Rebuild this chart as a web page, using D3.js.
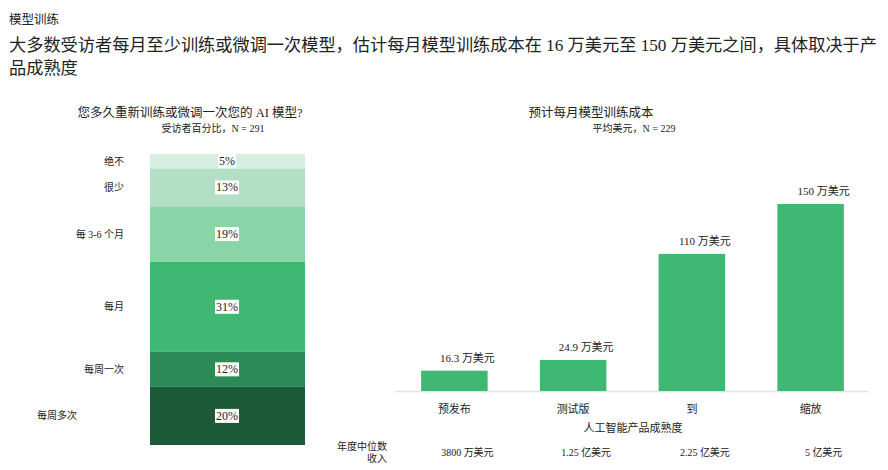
<!DOCTYPE html>
<html><head><meta charset="utf-8">
<script src="https://cdn.jsdelivr.net/npm/d3@7/dist/d3.min.js"></script>
<style>
body{margin:0;background:#fff;}
text{font-family:"Liberation Serif","Noto Sans CJK SC",serif;fill:#222;}
</style></head>
<body>
<svg id="c" width="888" height="470"></svg>
<script>
// ---- data ----
const freqCategories = ["绝不","很少","每 3-6 个月","每月","每周一次","每周多次"];
const freqValues = [5,13,19,31,12,20];
const freqColors = ["#d6eee1","#b2dfc6","#8bd4a8","#3fb874","#2b8a55","#1c5a37"];

const stageCategories = ["预发布","测试版","到","缩放"];
const costValues = [16.3,24.9,110,150];
const costLabels = ["16.3 万美元","24.9 万美元","110 万美元","150 万美元"];
const revenueLabels = ["3800 万美元","1.25 亿美元","2.25 亿美元","5 亿美元"];

const svg = d3.select("#c");

// ---- headings ----
svg.append("text").attr("x",9).attr("y",24).attr("font-size",12.5).text("模型训练");
const head = svg.append("text").attr("font-size",17.2);
head.append("tspan").attr("x",9).attr("y",51).text("大多数受访者每月至少训练或微调一次模型，估计每月模型训练成本在 16 万美元至 150 万美元之间，具体取决于产");
head.append("tspan").attr("x",9).attr("y",74).text("品成熟度");

// ---- left: stacked bar ----
svg.append("text").attr("x",190).attr("y",117).attr("text-anchor","middle").attr("font-size",12.5).text("您多久重新训练或微调一次您的 AI 模型?");
svg.append("text").attr("x",213).attr("y",132).attr("text-anchor","middle").attr("font-size",10).text("受访者百分比，N = 291");

const yL = d3.scaleLinear().domain([0,100]).range([154,445]);
let cum = 0;
const stacked = freqValues.map((v,i)=>{const s={cat:freqCategories[i],v,y0:cum,y1:cum+v,color:freqColors[i]};cum+=v;return s;});
const xL0 = 150, xL1 = 305;
const gL = svg.append("g");
gL.selectAll("rect.seg").data(stacked).join("rect").attr("class","seg")
  .attr("x",xL0).attr("width",xL1-xL0)
  .attr("y",d=>yL(d.y0)).attr("height",d=>yL(d.y1)-yL(d.y0))
  .attr("fill",d=>d.color);
stacked.forEach(d=>{
  const cy = (yL(d.y0)+yL(d.y1))/2;
  const t = gL.append("text").attr("x",227).attr("y",cy+4).attr("text-anchor","middle").attr("font-size",12).text(d.v+"%");
  const bb = t.node().getBBox();
  gL.insert("rect","text.dummy").attr("x",bb.x-1).attr("y",bb.y).attr("width",bb.width+2).attr("height",bb.height).attr("fill","#fff");
  t.raise();
  gL.append("text").attr("x",d.cat==="每周多次"?77:124).attr("y",cy+3.5).attr("text-anchor","end").attr("font-size",10).text(d.cat);
});

// ---- right: bar chart ----
svg.append("text").attr("x",591).attr("y",117).attr("text-anchor","middle").attr("font-size",12.5).text("预计每月模型训练成本");
svg.append("text").attr("x",634).attr("y",132).attr("text-anchor","middle").attr("font-size",10).text("平均美元，N = 229");

const xR = d3.scaleBand().domain(stageCategories).range([395,870]).paddingInner(0.44).paddingOuter(0.22);
const yR = d3.scaleLinear().domain([0,150]).range([391,204]);
const gR = svg.append("g");
gR.append("line").attr("x1",395).attr("x2",868).attr("y1",391.5).attr("y2",391.5).attr("stroke","#e3e3e3").attr("stroke-width",1.5);
gR.selectAll("rect.bar").data(costValues).join("rect").attr("class","bar")
  .attr("x",(d,i)=>xR(stageCategories[i])).attr("width",xR.bandwidth())
  .attr("y",d=>yR(d)).attr("height",d=>yR(0)-yR(d)).attr("fill","#3fb874");
gR.selectAll("text.val").data(costValues).join("text").attr("class","val")
  .attr("x",(d,i)=>xR(stageCategories[i])+xR.bandwidth()/2+13).attr("y",d=>yR(d)-9)
  .attr("text-anchor","middle").attr("font-size",11).text((d,i)=>costLabels[i]);
gR.selectAll("text.cat").data(stageCategories).join("text").attr("class","cat")
  .attr("x",d=>xR(d)+xR.bandwidth()/2).attr("y",413).attr("text-anchor","middle").attr("font-size",11).text(d=>d);
svg.append("text").attr("x",633).attr("y",432).attr("text-anchor","middle").attr("font-size",11).text("人工智能产品成熟度");
gR.selectAll("text.rev").data(revenueLabels).join("text").attr("class","rev")
  .attr("x",(d,i)=>xR(stageCategories[i])+xR.bandwidth()/2+13).attr("y",456)
  .attr("text-anchor","middle").attr("font-size",10).text(d=>d);
svg.append("text").attr("x",387).attr("y",450).attr("text-anchor","end").attr("font-size",10).text("年度中位数");
svg.append("text").attr("x",387).attr("y",462).attr("text-anchor","end").attr("font-size",10).text("收入");
</script>
</body></html>
